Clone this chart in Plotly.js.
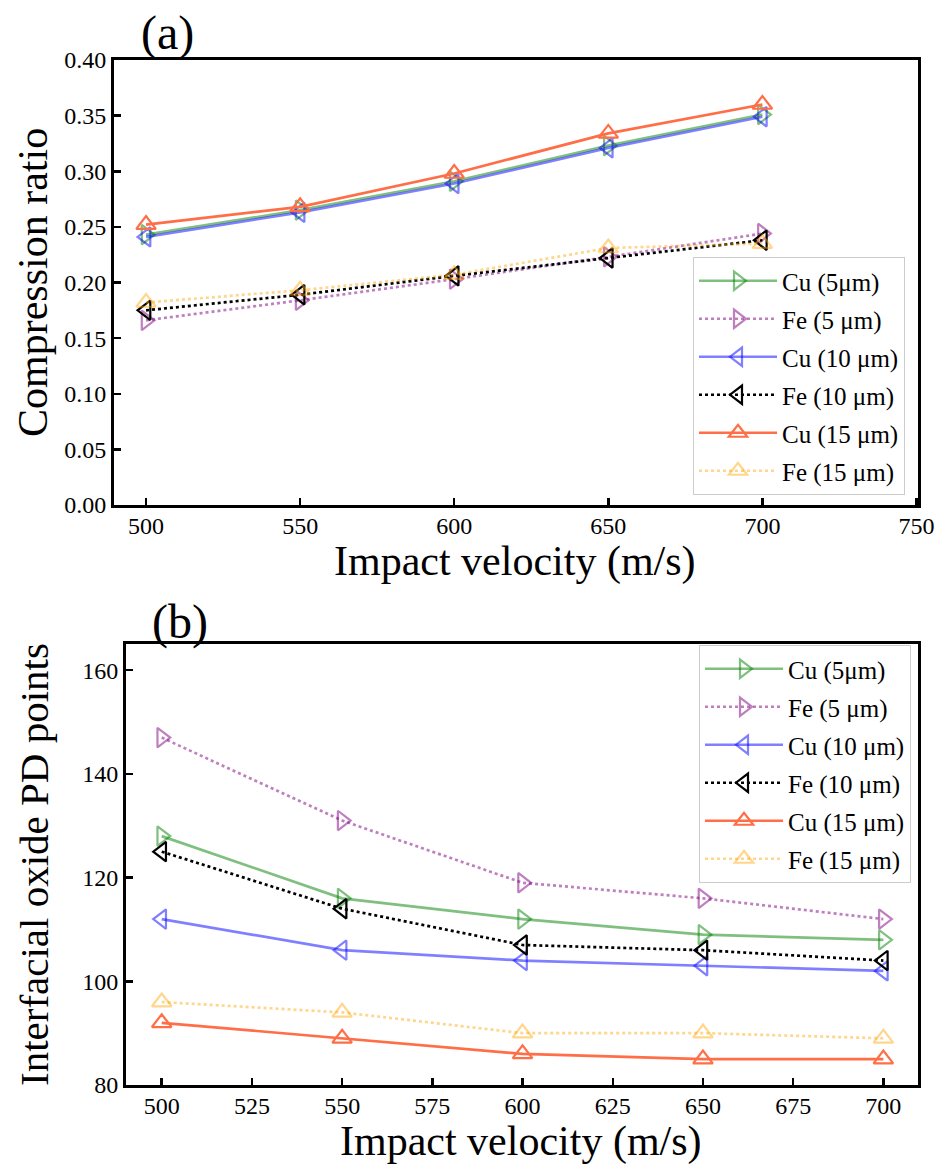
<!DOCTYPE html>
<html>
<head>
<meta charset="utf-8">
<script src="https://cdn.plot.ly/plotly-3.0.1.min.js"></script>
<style>html,body{margin:0;padding:0;background:#fff;}#chart{width:938px;height:1164px;}</style>
</head>
<body>
<div id="chart"></div>
<script>
// ---- data ----
const velocity = [500, 550, 600, 650, 700];
const seriesNames = ["Cu (5μm)", "Fe (5 μm)", "Cu (10 μm)", "Fe (10 μm)", "Cu (15 μm)", "Fe (15 μm)"];

// (a) Compression ratio
const compCu5  = [0.243, 0.265, 0.291, 0.323, 0.351];
const compFe5  = [0.166, 0.184, 0.203, 0.223, 0.244];
const compCu10 = [0.241, 0.263, 0.289, 0.321, 0.349];
const compFe10 = [0.175, 0.189, 0.206, 0.222, 0.238];
const compCu15 = [0.252, 0.268, 0.298, 0.334, 0.360];
const compFe15 = [0.182, 0.193, 0.207, 0.231, 0.235];

// (b) Interfacial oxide PD points
const pdCu5  = [128, 116, 112, 109, 108];
const pdFe5  = [147, 131, 119, 116, 112];
const pdCu10 = [112, 106, 104, 103, 102];
const pdFe10 = [125, 114, 107, 106, 104];
const pdCu15 = [92, 89, 86, 85, 85];
const pdFe15 = [96, 94, 90, 90, 89];

const xTicksA = [500, 550, 600, 650, 700, 750];
const yTicksA = [0.00, 0.05, 0.10, 0.15, 0.20, 0.25, 0.30, 0.35, 0.40];
const xTicksB = [500, 525, 550, 575, 600, 625, 650, 675, 700];
const yTicksB = [80, 100, 120, 140, 160];

const xTitle = "Impact velocity (m/s)";
const yTitleA = "Compression ratio";
const yTitleB = "Interfacial oxide PD points";
const panelLabels = ["(a)", "(b)"];

// ---- styles ----
const styles = [
  {color: "rgba(0,128,0,0.5)",   dash: "solid", symbol: "triangle-right-open"},
  {color: "rgba(128,0,128,0.5)", dash: "dot",   symbol: "triangle-right-open"},
  {color: "rgba(0,0,255,0.5)",   dash: "solid", symbol: "triangle-left-open"},
  {color: "rgb(0,0,0)",          dash: "dot",   symbol: "triangle-left-open"},
  {color: "rgb(255,110,70)",     dash: "solid", symbol: "triangle-up-open"},
  {color: "rgba(255,165,0,0.45)",dash: "dot",   symbol: "triangle-up-open"}
];

const FONT = "Liberation Serif";

function mk(ys, i, xa, ya, leg) {
  const s = styles[i];
  return {
    x: velocity, y: ys, type: "scatter", mode: "lines+markers",
    name: seriesNames[i], xaxis: xa, yaxis: ya, legend: leg,
    legendgroup: leg + "_" + i,
    line: {color: s.color, width: 2.7, dash: s.dash},
    marker: {symbol: s.symbol, size: 17, color: s.color, line: {color: s.color, width: 2.2}}
  };
}

const A = [compCu5, compFe5, compCu10, compFe10, compCu15, compFe15];
const B = [pdCu5, pdFe5, pdCu10, pdFe10, pdCu15, pdFe15];
const data = [];
A.forEach((ys, i) => data.push(mk(ys, i, "x", "y", "legend")));
B.forEach((ys, i) => data.push(mk(ys, i, "x2", "y2", "legend2")));

function axis(extra) {
  return Object.assign({
    showline: true, linecolor: "#000", linewidth: 3, mirror: true,
    ticks: "inside", ticklen: 7, tickwidth: 2.5, tickcolor: "#000",
    showgrid: false, zeroline: false, automargin: false,
    tickfont: {family: FONT, size: 24, color: "#000"}
  }, extra);
}

function legend(extra) {
  return Object.assign({
    bgcolor: "rgba(255,255,255,0.9)", bordercolor: "#cccccc", borderwidth: 1,
    font: {family: FONT, size: 25, color: "#000"},
    xanchor: "left", yanchor: "top", tracegroupgap: 2.5, itemwidth: 78
  }, extra);
}

function ann(text, px, py, size, angle) {
  return {text: text, xref: "paper", yref: "paper", x: px/938, y: 1 - py/1164,
    xanchor: "center", yanchor: "middle", showarrow: false, textangle: angle || 0,
    font: {family: FONT, size: size, color: "#000"}};
}

const layout = {
  width: 938, height: 1164,
  margin: {l: 0, r: 0, t: 0, b: 0},
  paper_bgcolor: "#fff", plot_bgcolor: "#fff",
  font: {family: FONT, size: 24, color: "#000"},
  showlegend: true,
  xaxis: axis({
    domain: [114/938, 918/938], anchor: "y",
    range: [489.6, 750.5], tickvals: xTicksA, ticktext: xTicksA.map(String),
    ticklabelstandoff: -3
  }),
  yaxis: axis({
    domain: [1 - 505/1164, 1 - 60/1164], anchor: "x",
    range: [0, 0.40], tickvals: yTicksA, ticktext: yTicksA.map(v => v.toFixed(2))
  }),
  xaxis2: axis({
    domain: [126/938, 918/938], anchor: "y2",
    range: [490.1, 709.6], tickvals: xTicksB, ticktext: xTicksB.map(String),
    ticklabelstandoff: -3
  }),
  yaxis2: axis({
    domain: [1 - 1085/1164, 1 - 644/1164], anchor: "x2",
    range: [80, 165.05], tickvals: yTicksB, ticktext: yTicksB.map(String)
  }),
  legend: legend({x: 693/938, y: 1 - 257/1164}),
  legend2: legend({x: 699/938, y: 1 - 645/1164}),
  annotations: [
    ann(panelLabels[0], 167, 33, 48),
    ann(panelLabels[1], 180, 622, 48),
    ann(xTitle, 515, 561, 42),
    ann(xTitle, 521, 1141, 42),
    ann(yTitleA, 33, 283, 42, -90),
    ann(yTitleB, 34, 865, 41, -90)
  ]
};

Plotly.newPlot("chart", data, layout, {displayModeBar: false, staticPlot: true});
</script>
</body>
</html>
